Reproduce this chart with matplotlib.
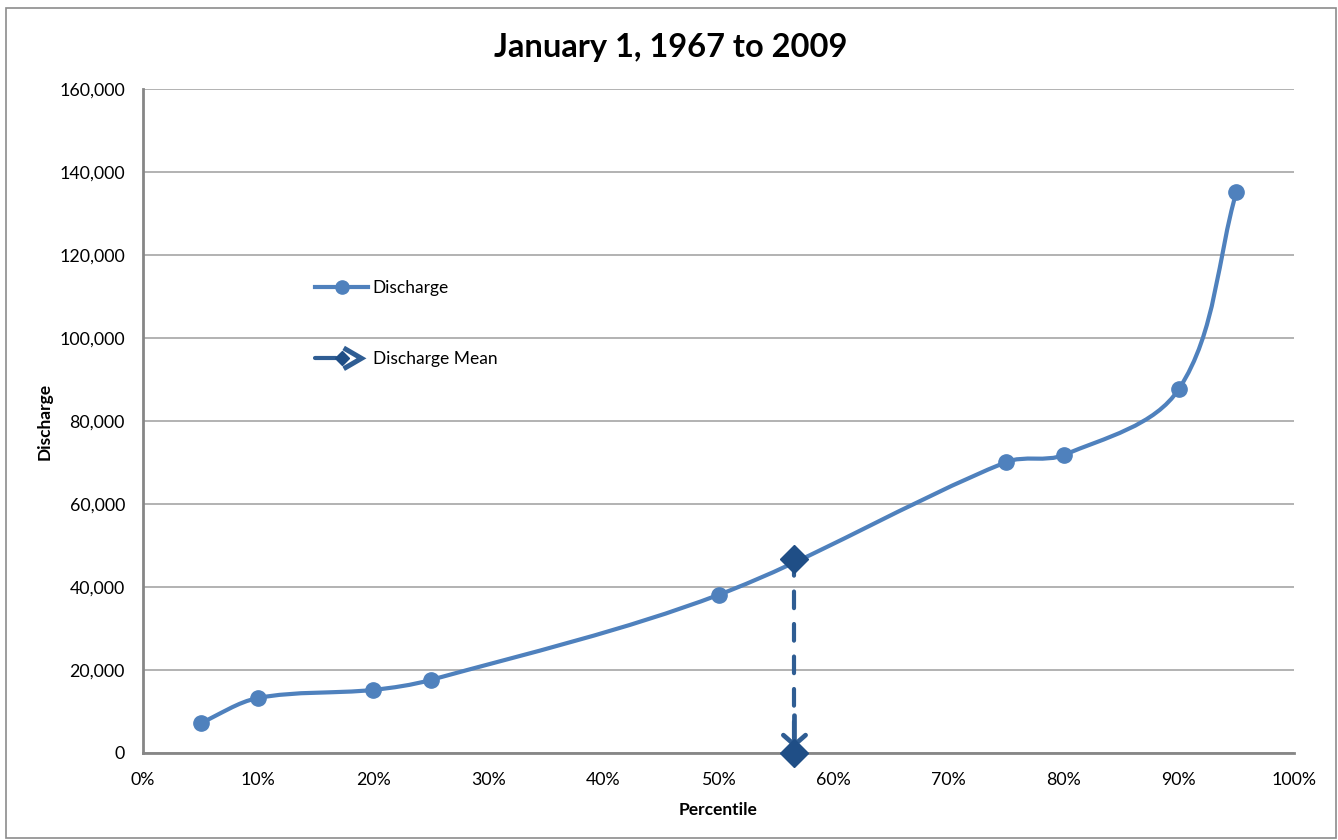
import numpy as np
import matplotlib
matplotlib.use("Agg")
import matplotlib.pyplot as plt
from matplotlib.path import Path
from matplotlib.patches import PathPatch, Rectangle
from matplotlib.lines import Line2D
from matplotlib.legend_handler import HandlerLine2D
from matplotlib.ticker import FuncFormatter, MultipleLocator

plt.rcParams["font.family"] = ["Lato", "DejaVu Sans"]

# Flow-duration data
percentiles = [5, 10, 20, 25, 50, 75, 80, 90, 95]
discharge = [7200, 13250, 15200, 17600, 38100, 70100, 71800, 87700, 135200]
mean_percentile = 56.6
mean_discharge = 46800

title = "January 1, 1967 to 2009"
x_label = "Percentile"
y_label = "Discharge"

MAIN = "#4F81BD"
MEAN_LINE = "#2F5D93"
MEAN_MARK = "#1F4E86"
GRID = "#A6A6A6"
SPINE = "#868686"

X_MAX, Y_MAX = 100.0, 160000.0
ASPECT = (1150.0, 664.0)  # plot-area extent used to smooth in screen proportions


def smooth_path(xs, ys):
    """Cubic Bezier path through the points, tangents scaled by segment length."""
    pts = np.column_stack([np.asarray(xs, float) / X_MAX * ASPECT[0],
                           np.asarray(ys, float) / Y_MAX * ASPECT[1]])
    n = len(pts)
    tangents = []
    for i in range(n):
        a = pts[max(i - 1, 0)]
        b = pts[min(i + 1, n - 1)]
        d = b - a
        tangents.append(d / np.hypot(*d))
    verts = [pts[0]]
    codes = [Path.MOVETO]
    for i in range(n - 1):
        p1, p2 = pts[i], pts[i + 1]
        L = np.hypot(*(p2 - p1))
        c1 = p1 + tangents[i] * L / 3.0
        c2 = p2 - tangents[i + 1] * L / 3.0
        verts += [c1, c2, p2]
        codes += [Path.CURVE4] * 3
    verts = np.array(verts)
    verts[:, 0] *= X_MAX / ASPECT[0]
    verts[:, 1] *= Y_MAX / ASPECT[1]
    return Path(verts, codes)


class MeanHandler(HandlerLine2D):
    def create_artists(self, legend, orig_handle, xdescent, ydescent,
                       width, height, fontsize, trans):
        y = height / 2.0 - ydescent
        x0, x1 = -xdescent, -xdescent + width
        seg = Line2D([x0, x0 + width * 0.40], [y, y], color=MEAN_LINE, lw=3,
                     solid_capstyle="round")
        dia = Line2D([x0 + width * 0.50], [y], marker="D", markersize=7.5,
                     color=MEAN_MARK, linestyle="none")
        head = Line2D([x0 + width * 0.58, x1 - 5, x0 + width * 0.58],
                      [y + height * 0.75, y, y - height * 0.75],
                      color=MEAN_LINE, lw=3.6, solid_joinstyle="miter")
        for a in (seg, dia, head):
            a.set_transform(trans)
        return [seg, dia, head]


fig = plt.figure(figsize=(13.38, 8.4), dpi=100)
ax = fig.add_axes([0.1069, 0.1036, 0.8602, 0.7905])

# smoothed discharge curve with markers
ax.add_patch(PathPatch(smooth_path(percentiles, discharge), facecolor="none",
                       edgecolor=MAIN, lw=3, capstyle="round", zorder=3))
ax.plot(percentiles, discharge, linestyle="none", marker="o", markersize=11,
        color=MAIN, zorder=4)

# mean drop line with arrow
ax.plot([mean_percentile, mean_percentile], [mean_discharge, 3500],
        color=MEAN_LINE, lw=3, linestyle=(0, (4.0, 3.8)),
        dash_capstyle="round", zorder=3)
ax.annotate("", xy=(mean_percentile, 1200), xytext=(mean_percentile, 9000),
            arrowprops=dict(arrowstyle="->,head_length=0.7,head_width=0.8",
                            color=MEAN_LINE, lw=3.4, shrinkA=0, shrinkB=0),
            zorder=4)
ax.plot([mean_percentile, mean_percentile], [mean_discharge, 0],
        linestyle="none", marker="D", markersize=14, color=MEAN_MARK,
        zorder=5, clip_on=False)

ax.set_xlim(0, X_MAX)
ax.set_ylim(0, Y_MAX)
ax.xaxis.set_major_locator(MultipleLocator(10))
ax.yaxis.set_major_locator(MultipleLocator(20000))
ax.xaxis.set_major_formatter(FuncFormatter(lambda v, p: f"{v:.0f}%"))
ax.yaxis.set_major_formatter(FuncFormatter(lambda v, p: f"{v:,.0f}"))
ax.tick_params(length=0, labelsize=12.8, colors="#000000")
ax.tick_params(axis="y", pad=13)
ax.tick_params(axis="x", pad=14)
ax.grid(axis="y", color=GRID, lw=1.2)
ax.set_axisbelow(True)
for s in ("top", "right"):
    ax.spines[s].set_visible(False)
for s in ("left", "bottom"):
    ax.spines[s].set_color(SPINE)
    ax.spines[s].set_linewidth(2)

fig.text(0.5015, 0.944, title, fontsize=23.5, fontweight="bold",
         ha="center", va="center")
ax.set_xlabel(x_label, fontsize=12.5, fontweight="bold", labelpad=10)
ax.set_ylabel(y_label, fontsize=12.5, fontweight="bold", labelpad=5)

h_main = Line2D([], [], color=MAIN, lw=3, marker="o", markersize=9.5)
h_mean = Line2D([], [], color=MEAN_LINE)
ax.legend([h_main, h_mean], ["Discharge", "Discharge Mean"],
          handler_map={h_mean: MeanHandler()},
          loc="upper left", bbox_to_anchor=(0.1355, 0.736), frameon=False,
          fontsize=12.5, handlelength=3.1, handletextpad=0.25,
          labelspacing=3.2)

fig.patches.append(Rectangle((0.0045, 0.0024), 0.9940, 0.9880,
                             transform=fig.transFigure, fill=False,
                             edgecolor="#8C8C8C", lw=1.2))

fig.savefig("out.png", dpi=100)
